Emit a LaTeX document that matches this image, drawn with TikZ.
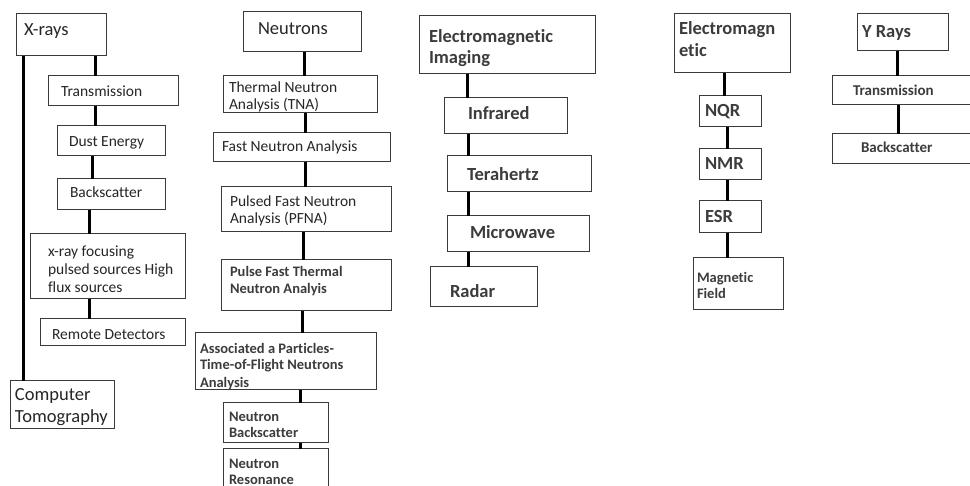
\documentclass[tikz,border=0pt]{standalone}
\usepackage{fontspec}
\setmainfont{Carlito}[Ligatures={NoCommon}]
\usetikzlibrary{calc}
\definecolor{boxc}{HTML}{3A3A3A}
\definecolor{txtn}{HTML}{262626}
\definecolor{txtb}{HTML}{3C3C3C}
\newcommand\bx[5]{\node[box,minimum width={(#4-(#2))*1pt},minimum height={(#5-(#3))*1pt}] (#1) at ({(#2+#4)/2},{(#3+#5)/2}) {};}
\newcommand\tx[5]{\node[txt,#4] (#1) at (#2,#3) {#5};}
\newcommand\conn[3]{\draw[conn] let \p1=(#1.south), \p2=(#2.north) in (#3pt,\y1) -- (#3pt,\y2);}
\begin{document}
\begin{tikzpicture}[x=1pt,y=-1pt,
  box/.style={draw=boxc,line width=1pt,inner sep=0pt,outer sep=0pt},
  conn/.style={draw=black,line width=3pt},
  txt/.style={anchor=base west,inner sep=0pt,outer sep=0pt},
  tn/.style={font=\fontsize{15.5}{18}\selectfont,text=txtn},
  tl/.style={font=\fontsize{18.5}{22}\selectfont,text=txtn},
  bl/.style={font=\bfseries\fontsize{18.5}{22}\selectfont,text=txtb},
  bs/.style={font=\bfseries\fontsize{14.5}{17}\selectfont,text=txtb},
  bm/.style={font=\bfseries\fontsize{15}{18}\selectfont,text=txtb}]
\fill[white] (0,0) rectangle (970,486);
\useasboundingbox (0,0) rectangle (970,486);
% ---------- boxes ----------
\bx{xr}{16}{14}{106}{56}
\bx{xtr}{48}{76}{178}{106}
\bx{xde}{57}{126}{165}{156}
\bx{xbs}{57}{179}{165}{210}
\bx{xfo}{30}{234}{185}{299}
\bx{xrd}{40}{319}{185}{346}
\bx{xct}{10}{381}{114}{429}
\bx{ne}{243}{12}{361}{52}
\bx{tna}{223}{76}{377}{113}
\bx{fna}{213}{133}{390}{162}
\bx{pfna}{221}{187}{391}{232}
\bx{pft}{221}{260}{391}{311}
\bx{apt}{195}{333}{376}{390}
\bx{nbs}{223}{403}{328}{443}
\bx{nrs}{223}{449}{328}{500}
\bx{em}{419}{16}{595}{74}
\bx{ir}{444}{98}{567}{134}
\bx{th}{447}{156}{591}{192}
\bx{mw}{447}{216}{589}{252}
\bx{rad}{430}{267}{537}{307}
\bx{emg}{674}{14}{790}{73}
\bx{nqr}{699}{96}{761}{127}
\bx{nmr}{699}{149}{761}{180}
\bx{esr}{699}{201}{761}{233}
\bx{mf}{693}{258}{783}{310}
\bx{yr}{857}{14}{948}{51}
\bx{gtr}{832}{76}{990}{105}
\bx{gbs}{832}{134}{990}{164}
% ---------- connectors ----------
\conn{xr}{xct}{23}
\conn{xr}{xtr}{95}
\conn{xtr}{xde}{95}
\conn{xde}{xbs}{92}
\conn{xbs}{xfo}{89}
\conn{xfo}{xrd}{89}
\conn{ne}{tna}{304}
\conn{tna}{fna}{305}
\conn{fna}{pfna}{305}
\conn{pfna}{pft}{303}
\conn{pft}{apt}{302}
\conn{apt}{nbs}{300}
\conn{nbs}{nrs}{300}
\conn{em}{ir}{467}
\conn{ir}{th}{468}
\conn{th}{mw}{468}
\conn{mw}{rad}{468}
\conn{emg}{nqr}{724}
\conn{nqr}{nmr}{727}
\conn{nmr}{esr}{727}
\conn{esr}{mf}{727}
\conn{yr}{gtr}{897}
\conn{gtr}{gbs}{898}
% ---------- texts ----------
\tx{t1}{24}{36}{tl}{X-rays}
\tx{t2}{61}{97}{tn}{Transmission}
\tx{t3}{69}{147}{tn}{Dust Energy}
\tx{t4}{70}{198}{tn}{Backscatter}
\tx{t5}{48}{257}{tn}{x-ray focusing}
\tx{t6}{48}{275}{tn}{pulsed sources High}
\tx{t7}{48}{293}{tn}{flux sources}
\tx{t8}{52}{340}{tn}{Remote Detectors}
\tx{t9}{15}{401}{tl}{Computer}
\tx{t10}{15}{423}{tl}{Tomography}
\tx{t11}{258}{35}{tl}{Neutrons}
\begin{scope}
\clip (223,76) rectangle (377,112.5);
\tx{t12}{229}{93}{tn}{Thermal Neutron}
\tx{t13}{229}{110}{tn}{Analysis (TNA)}
\end{scope}
\tx{t14}{222}{152}{tn}{Fast Neutron Analysis}
\tx{t15}{230}{207}{tn}{Pulsed Fast Neutron}
\tx{t16}{230}{224}{tn}{Analysis (PFNA)}
\tx{t17}{230}{277}{bs}{Pulse Fast Thermal}
\tx{t18}{230}{294}{bs}{Neutron Analyis}
\begin{scope}
\clip (195,333) rectangle (376,389.5);
\tx{t19}{200}{354}{bs}{Associated a Particles-}
\tx{t20}{200}{370}{bs}{Time-of-Flight Neutrons}
\tx{t21}{200}{388}{bs}{Analysis}
\end{scope}
\tx{t22}{229}{421}{bs}{Neutron}
\tx{t23}{229}{438}{bs}{Backscatter}
\tx{t24}{229}{468}{bs}{Neutron}
\tx{t25}{229}{484}{bs}{Resonance}
\tx{t26}{429}{43}{bl}{Electromagnetic}
\tx{t27}{429}{64}{bl}{Imaging}
\tx{t28}{468}{120}{bl}{Infrared}
\tx{t29}{467}{181}{bl}{Terahertz}
\tx{t30}{470}{239}{bl}{Microwave}
\tx{t31}{450}{298}{bl}{Radar}
\tx{t32}{679}{35}{bl}{Electromagn}
\tx{t33}{679}{57}{bl}{etic}
\tx{t34}{705}{117}{bl}{NQR}
\tx{t35}{705}{170}{bl}{NMR}
\tx{t36}{705}{223}{bl}{ESR}
\tx{t37}{697}{283}{bs}{Magnetic}
\tx{t38}{697}{299}{bs}{Field}
\tx{t39}{862}{38}{bl}{Y Rays}
\tx{t40}{853}{96}{bm}{Transmission}
\tx{t41}{861}{153}{bm}{Backscatter}
\end{tikzpicture}
\end{document}
